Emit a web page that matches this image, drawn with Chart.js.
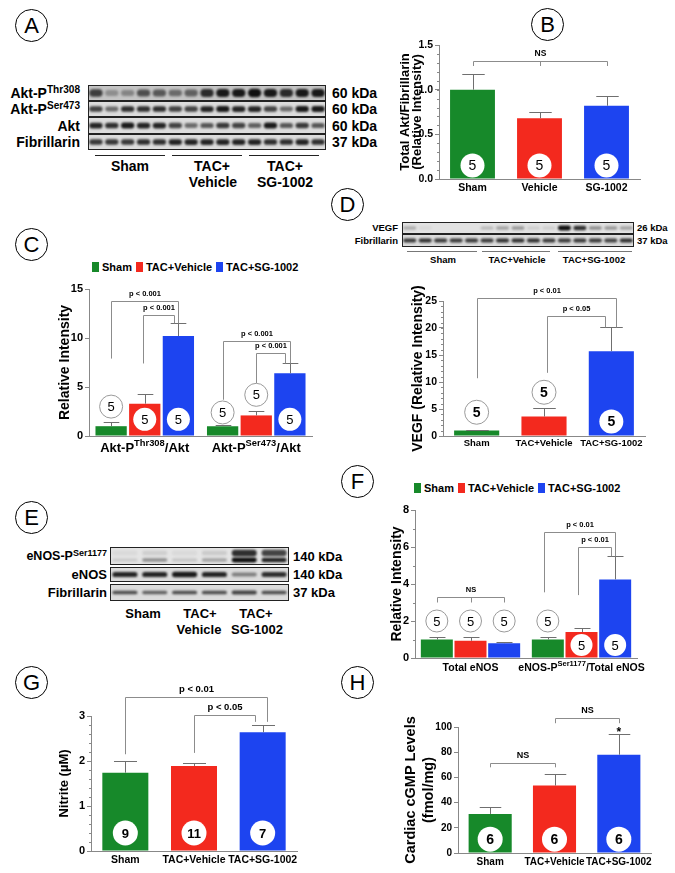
<!DOCTYPE html>
<html>
<head>
<meta charset="utf-8">
<script src="https://cdn.jsdelivr.net/npm/chart.js@4.4.1/dist/chart.umd.min.js"></script>
<style>
body{margin:0;background:#fff;width:675px;height:873px;position:relative;overflow:hidden;font-family:"Liberation Sans",Arial,sans-serif;font-weight:bold;color:#000}
canvas,.t,.ln,.pl,.lg{position:absolute}
.pl{width:31px;height:31px;border:1.2px solid #000;border-radius:50%;font-weight:normal;font-size:22px;line-height:31px;text-align:center}
.t{white-space:nowrap;line-height:1}
.r{transform:translate(-100%,-50%)}
.l{transform:translate(0,-50%)}
.c{transform:translate(-50%,-50%)}
.ln{height:0;border-top:1.5px solid #222}
.ln.g{border-top:1px solid #777}
sup{font-size:72%;vertical-align:0;position:relative;top:-0.45em}
.lg{display:flex;align-items:center;font-size:11px;transform:translateY(-50%);white-space:nowrap}
.lg i{display:inline-block;width:7px;height:10px;margin:0 3px 0 4px}
</style>
</head>
<body>
<!-- panel letters -->
<div class="pl" style="left:15px;top:9px">A</div>
<div class="pl" style="left:531px;top:8px">B</div>
<div class="pl" style="left:15px;top:228px">C</div>
<div class="pl" style="left:331px;top:188px">D</div>
<div class="pl" style="left:15px;top:501px">E</div>
<div class="pl" style="left:341px;top:465px">F</div>
<div class="pl" style="left:15px;top:666px">G</div>
<div class="pl" style="left:341px;top:666px">H</div>

<!-- A blot -->
<canvas id="blotA"></canvas>
<div class="t r" style="left:80px;top:93px;font-size:14px">Akt-P<sup>Thr308</sup></div>
<div class="t r" style="left:80px;top:109px;font-size:14px">Akt-P<sup>Ser473</sup></div>
<div class="t r" style="left:80px;top:126px;font-size:14px">Akt</div>
<div class="t r" style="left:80px;top:142px;font-size:14px">Fibrillarin</div>
<div class="t l" style="left:332px;top:93px;font-size:14px">60 kDa</div>
<div class="t l" style="left:332px;top:109px;font-size:14px">60 kDa</div>
<div class="t l" style="left:332px;top:126px;font-size:14px">60 kDa</div>
<div class="t l" style="left:332px;top:142px;font-size:14px">37 kDa</div>
<div class="ln" style="left:95px;top:155px;width:70px"></div>
<div class="ln" style="left:172px;top:155px;width:70px"></div>
<div class="ln" style="left:249px;top:155px;width:70px"></div>
<div class="t c" style="left:130px;top:166px;font-size:14px">Sham</div>
<div class="t c" style="left:212px;top:166px;font-size:14px">TAC+</div>
<div class="t c" style="left:213px;top:182px;font-size:14px">Vehicle</div>
<div class="t c" style="left:285px;top:166px;font-size:14px">TAC+</div>
<div class="t c" style="left:285px;top:182px;font-size:14px">SG-1002</div>

<!-- D blot -->
<canvas id="blotD"></canvas>
<div class="t r" style="left:398px;top:228px;font-size:9.5px">VEGF</div>
<div class="t r" style="left:398px;top:241px;font-size:9.5px">Fibrillarin</div>
<div class="t l" style="left:637px;top:228px;font-size:9.5px">26 kDa</div>
<div class="t l" style="left:637px;top:241px;font-size:9.5px">37 kDa</div>
<div class="ln g" style="left:407px;top:251px;width:70px"></div>
<div class="ln g" style="left:482px;top:251px;width:68px"></div>
<div class="ln g" style="left:558px;top:251px;width:74px"></div>
<div class="t c" style="left:443px;top:260px;font-size:9.5px">Sham</div>
<div class="t c" style="left:517px;top:260px;font-size:9.5px">TAC+Vehicle</div>
<div class="t c" style="left:594px;top:260px;font-size:9.5px">TAC+SG-1002</div>

<!-- E blot -->
<canvas id="blotE"></canvas>
<div class="t r" style="left:107px;top:556px;font-size:12.5px">eNOS-P<sup>Ser1177</sup></div>
<div class="t r" style="left:107px;top:574px;font-size:13px">eNOS</div>
<div class="t r" style="left:107px;top:592px;font-size:13px">Fibrillarin</div>
<div class="t l" style="left:293px;top:556px;font-size:13px">140 kDa</div>
<div class="t l" style="left:293px;top:574px;font-size:13px">140 kDa</div>
<div class="t l" style="left:293px;top:592px;font-size:13px">37 kDa</div>
<div class="t c" style="left:143px;top:613px;font-size:13px">Sham</div>
<div class="t c" style="left:200px;top:613px;font-size:13px">TAC+</div>
<div class="t c" style="left:199px;top:629px;font-size:13px">Vehicle</div>
<div class="t c" style="left:256px;top:613px;font-size:13px">TAC+</div>
<div class="t c" style="left:257px;top:629px;font-size:13px">SG-1002</div>

<div class="lg" id="legC" style="left:92px;top:267px"></div>
<div class="lg" id="legF" style="left:414px;top:488px"></div>

<canvas id="cB"></canvas>
<canvas id="cC"></canvas>
<canvas id="cD"></canvas>
<canvas id="cF"></canvas>
<canvas id="cG"></canvas>
<canvas id="cH"></canvas>

<script>
// groupes et couleurs
const groupNames = ['Sham', 'TAC+Vehicle', 'TAC+SG-1002'];
const groupColors = ['#17892a', '#f3291e', '#1d44f0'];

// B : Akt total / fibrillarine
const bCategories = ['Sham', 'Vehicle', 'SG-1002'];
const bMean = [1.00, 0.68, 0.82];
const bSem = [0.18, 0.07, 0.11];
const bN = [5, 5, 5];
const bYTicks = [0, 0.5, 1.0, 1.5];

// C : phosphorylation d'Akt ({} = exposant)
const cCategories = ['Akt-P{Thr308}/Akt', 'Akt-P{Ser473}/Akt'];
const cSham = [1.0, 1.0];
const cVehicle = [3.3, 2.1];
const cSG = [10.2, 6.4];
const cShamSem = [0.4, 0.12];
const cVehicleSem = [1.0, 0.5];
const cSGSem = [1.3, 1.0];
const cN = [5, 5];
const cYTicks = [0, 5, 10, 15];

// D : VEGF
const dMean = [1.0, 3.6, 15.7];
const dSem = [0.12, 1.6, 4.4];
const dN = [5, 5, 5];
const dYTicks = [0, 5, 10, 15, 20, 25];

// F : eNOS
const fCategories = ['Total eNOS', 'eNOS-P{Ser1177}/Total eNOS'];
const fSham = [1.0, 1.0];
const fVehicle = [0.93, 1.4];
const fSG = [0.8, 4.25];
const fShamSem = [0.15, 0.15];
const fVehicleSem = [0.2, 0.22];
const fSGSem = [0.05, 1.25];
const fN = [5, 5];
const fYTicks = [0, 2, 4, 6, 8];

// G : nitrite
const gMean = [1.74, 1.89, 2.64];
const gSem = [0.27, 0.07, 0.16];
const gN = [9, 11, 7];
const gYTicks = [0, 1, 2, 3];

// H : GMPc cardiaque
const hMean = [31, 53.5, 78];
const hSem = [5.5, 9.5, 16.5];
const hN = [6, 6, 6];
const hYTicks = [0, 20, 40, 60, 80, 100];

// intensites des bandes (0..1) par puits
const aThr308 = [0.75, 0.3, 0.35, 0.65, 0.6, 0.5, 0.55, 0.85, 0.95, 0.95, 1, 0.95, 0.85, 0.95, 0.95];
const aSer473 = [0.75, 0.55, 0.85, 0.85, 0.85, 0.75, 0.75, 0.9, 0.95, 0.9, 0.9, 0.75, 0.55, 0.95, 0.95];
const aAkt = [0.9, 0.85, 0.95, 0.9, 0.9, 0.75, 0.55, 0.65, 0.8, 0.75, 0.6, 0.95, 0.65, 0.8, 0.65];
const aFib = [0.8, 0.8, 0.8, 0.85, 0.85, 0.9, 0.9, 0.9, 0.9, 0.9, 0.9, 0.85, 0.85, 0.9, 0.85];
const dVEGF = [0.25, 0.05, 0, 0, 0, 0.2, 0.3, 0.35, 0.1, 0.1, 1, 0.85, 0.4, 0.35, 0.3];
const dFib = [0.8, 0.85, 0.8, 0.8, 0.8, 0.8, 0.85, 0.85, 0.85, 0.8, 0.8, 0.8, 0.8, 0.75, 0.85];
const eP = [0.12, 0.4, 0.15, 0.3, 1, 0.9];
const ePUpper = [0.05, 0.1, 0.05, 0.12, 0.85, 0.75];
const eNOS = [0.9, 0.9, 0.95, 0.9, 0.45, 0.85];
const eFib = [0.7, 0.6, 0.7, 0.7, 0.75, 0.7];

const FONT = '"Liberation Sans", Arial, sans-serif';
Chart.defaults.font.family = FONT;
Chart.defaults.color = '#000';

function drawBlot(id, x, y, w, rows) {
    const cv = document.getElementById(id);
    const h = rows.reduce((s, r) => s + r.h + (r.gap || 0), 0);
    cv.width = w; cv.height = h;
    cv.style.left = x + 'px'; cv.style.top = y + 'px';
    const ctx = cv.getContext('2d');
    let yy = 0;
    rows.forEach(r => {
        ctx.fillStyle = r.bg || '#dcdcdc';
        ctx.fillRect(0, yy, w, r.h);
        ctx.save();
        ctx.beginPath(); ctx.rect(0, yy, w, r.h); ctx.clip();
        ctx.filter = 'blur(1px)';
        r.layers.forEach(L => {
            const lw = w / L.a.length;
            L.a.forEach((a, i) => {
                const bh = L.bh * (0.7 + 0.5 * a);
                ctx.fillStyle = 'rgba(15,15,15,' + a + ')';
                ctx.beginPath();
                ctx.roundRect((i + 0.5) * lw - lw * 0.42, yy + r.h / 2 + (L.dy || 0) - bh / 2, lw * 0.84, bh, bh / 2);
                ctx.fill();
            });
        });
        ctx.restore();
        ctx.strokeStyle = '#222'; ctx.lineWidth = 1;
        ctx.strokeRect(0.5, yy + 0.5, w - 1, r.h - 1);
        yy += r.h + (r.gap || 0);
    });
}

drawBlot('blotA', 88, 85, 238, [
    {h: 16, bg: '#c4c4c4', layers: [{a: aThr308, bh: 7}]},
    {h: 16, layers: [{a: aSer473, bh: 5}]},
    {h: 17, layers: [{a: aAkt, bh: 5}]},
    {h: 16, layers: [{a: aFib, bh: 5}]}
]);
drawBlot('blotD', 402, 222, 232, [
    {h: 12, bg: '#e2e2e2', layers: [{a: dVEGF, bh: 4}]},
    {h: 13, layers: [{a: dFib, bh: 3.5}]}
]);
drawBlot('blotE', 110, 547, 179, [
    {h: 18, gap: 2, bg: '#e4e4e4', layers: [{a: ePUpper, bh: 6, dy: -3}, {a: eP, bh: 4, dy: 4}]},
    {h: 15, gap: 2, layers: [{a: eNOS, bh: 4.5}]},
    {h: 17, layers: [{a: eFib, bh: 3.5}]}
]);

// legendes HTML
function legend(id) {
    document.getElementById(id).innerHTML = groupNames.map((g, i) =>
        '<i style="background:' + groupColors[i] + (i ? '' : ';margin-left:0') + '"></i>' + g).join('');
}
legend('legC');
legend('legF');

// rendu d'un libelle avec exposant {..}
function richText(ctx, str, cx, cy, size) {
    const parts = str.split(/[{}]/).map((s, i) => ({s, sup: i % 2 === 1}));
    const fontOf = p => 'bold ' + (p.sup ? size * 0.72 : size) + 'px ' + FONT;
    let total = 0;
    parts.forEach(p => { ctx.font = fontOf(p); p.w = ctx.measureText(p.s).width; total += p.w; });
    let x = cx - total / 2;
    ctx.textAlign = 'left'; ctx.textBaseline = 'middle'; ctx.fillStyle = '#000';
    parts.forEach(p => { ctx.font = fontOf(p); ctx.fillText(p.s, x, p.sup ? cy - size * 0.35 : cy); x += p.w; });
}

// barres d'erreur, cercles n, crochets de signification
const extras = {
    id: 'extras',
    afterDatasetsDraw(chart, args, o) {
        const ctx = chart.ctx, ys = chart.scales.y, xs = chart.scales.x, area = chart.chartArea;
        const bar = (d, i) => chart.getDatasetMeta(d).data[i];
        const val = (d, i) => chart.data.datasets[d].data[i];
        const px = v => Math.round(v) + 0.5;
        ctx.save();
        ctx.lineWidth = 1;
        ctx.strokeStyle = '#6f6f6f';
        (o.sem || []).forEach((arr, d) => arr.forEach((s, i) => {
            const b = bar(d, i), ty = px(ys.getPixelForValue(val(d, i) + s)), cx = px(b.x);
            ctx.beginPath();
            ctx.moveTo(cx, b.y); ctx.lineTo(cx, ty);
            ctx.moveTo(cx - b.width / 4, ty); ctx.lineTo(cx + b.width / 4, ty);
            ctx.stroke();
        }));
        if (o.minor) {
            ctx.strokeStyle = '#888';
            ctx.beginPath();
            for (let v = 0; v <= ys.max + 1e-9; v += o.minor) {
                const py = px(ys.getPixelForValue(v));
                ctx.moveTo(area.left - 2, py); ctx.lineTo(area.left, py);
            }
            ctx.stroke();
        }
        ctx.strokeStyle = '#8c8c8c';
        ctx.fillStyle = '#000';
        ctx.textAlign = 'center'; ctx.textBaseline = 'middle';
        (o.brackets || []).forEach(k => {
            const xa = px(bar(...k.a).x + (k.dxa || 0));
            const xb = px(bar(...k.b).x + (k.dxb || 0));
            const yt = px(ys.getPixelForValue(k.top));
            ctx.beginPath();
            ctx.moveTo(xa, ys.getPixelForValue(k.la)); ctx.lineTo(xa, yt);
            ctx.lineTo(xb, yt); ctx.lineTo(xb, ys.getPixelForValue(k.lb));
            if (k.mid) {
                const m = px(bar(...k.mid).x);
                ctx.moveTo(m, yt); ctx.lineTo(m, ys.getPixelForValue(k.lm));
            }
            ctx.stroke();
            ctx.font = 'bold ' + o.pFont + 'px ' + FONT;
            ctx.fillText(k.text, (xa + xb) / 2, yt - 8);
        });
        (o.stars || []).forEach(s => {
            ctx.font = 'bold 12px ' + FONT;
            ctx.fillText('*', bar(...s.b).x, ys.getPixelForValue(s.v) + 3);
        });
        (o.circ || []).forEach((arr, d) => arr.forEach((v, i) => {
            const b = bar(d, i), cy = ys.getPixelForValue(v);
            const inside = v < val(d, i);
            ctx.beginPath();
            ctx.arc(b.x, cy, o.r, 0, Math.PI * 2);
            ctx.fillStyle = '#fff';
            ctx.fill();
            if (!inside) { ctx.strokeStyle = '#9a9a9a'; ctx.stroke(); }
            ctx.fillStyle = '#000';
            ctx.font = o.numFont + ' ' + FONT;
            ctx.fillText(String(o.n[d][i]), b.x, cy + 1);
        }));
        if (o.rich) {
            chart.data.labels.forEach((lab, i) => richText(ctx, lab, xs.getPixelForTick(i), area.bottom + o.rich.dy, o.rich.size));
        }
        ctx.restore();
    }
};

// box = canevas [x0,y0,x1,y1], plot = zone de trace [gauche, haut(max), droite, bas(0)]
function makeChart(id, box, plot, c) {
    const cv = document.getElementById(id);
    const w = box[2] - box[0], h = box[3] - box[1];
    cv.width = w; cv.height = h;
    cv.style.left = box[0] + 'px'; cv.style.top = box[1] + 'px';
    const yw = plot[0] - box[0], pt = plot[1] - box[1], pr = box[2] - plot[2], xh = box[3] - plot[3];
    return new Chart(cv, {
        type: 'bar',
        data: {labels: c.labels, datasets: c.datasets},
        options: {
            responsive: false,
            animation: false,
            layout: {padding: {left: 0, top: pt, right: pr, bottom: 0}},
            plugins: {legend: {display: false}, tooltip: {enabled: false}, extras: c.extras},
            scales: {
                x: {
                    grid: {display: false, drawTicks: false, tickLength: 0},
                    border: {color: '#888'},
                    ticks: {display: c.xTicks !== false, font: {size: c.xFont || 10, weight: 'bold'}, padding: c.xPad || 3, maxRotation: 0, autoSkip: false},
                    afterFit: s => { s.height = xh; }
                },
                y: {
                    min: 0,
                    max: c.yTicks[c.yTicks.length - 1],
                    afterBuildTicks: s => { s.ticks = c.yTicks.map(v => ({value: v})); },
                    ticks: {font: {size: c.tickFont, weight: 'bold'}, padding: 2, callback: c.fmt || (v => v)},
                    grid: {drawOnChartArea: false, tickLength: 4, color: '#888'},
                    border: {color: '#888'},
                    title: {display: true, text: c.title, padding: 0, font: {size: c.titleSize, weight: 'bold', lineHeight: c.titleLh || 1.2}},
                    afterFit: s => { s.width = yw; }
                }
            }
        },
        plugins: [extras]
    });
}

const single = (data) => [{data, backgroundColor: groupColors, categoryPercentage: 1, barPercentage: 0.67}];
const grouped = (sets, cp, bp) => sets.map((d, i) => ({label: groupNames[i], data: d, backgroundColor: groupColors[i], categoryPercentage: cp, barPercentage: bp}));

makeChart('cB', [399, 31, 646, 199], [439, 45, 640, 179], {
    labels: bCategories, datasets: single(bMean), yTicks: bYTicks, fmt: v => v.toFixed(1),
    tickFont: 10.5, xFont: 10.5, title: ['Total Akt/Fibrillarin', '(Relative Intensity)'], titleSize: 13, titleLh: 0.92,
    extras: {sem: [bSem], n: [bN], circ: [[0.15, 0.15, 0.15]], r: 12, numFont: '14px', minor: 0.1, pFont: 8.5,
        brackets: [{a: [0, 0], b: [0, 2], top: 1.32, la: 1.265, lb: 1.265, mid: [0, 1], lm: 1.265, text: 'NS'}]}
});

makeChart('cC', [57, 279, 318, 458], [89, 289, 312, 436], {
    labels: cCategories, datasets: grouped([cSham, cVehicle, cSG], 0.905, 0.93), yTicks: cYTicks,
    tickFont: 11, xTicks: false, title: 'Relative Intensity', titleSize: 14, titleLh: 1.1,
    extras: {sem: [cShamSem, cVehicleSem, cSGSem], n: [cN, cN, cN], circ: [[3.0, 2.4], [1.7, 4.2], [1.7, 1.7]],
        r: 11.5, numFont: '13px', pFont: 7.5, rich: {size: 13, dy: 12},
        brackets: [
            {a: [0, 0], b: [2, 0], top: 13.8, la: 7.9, lb: 11.5, text: 'p < 0.001'},
            {a: [1, 0], b: [2, 0], dxa: -2, dxb: -4, top: 12.3, la: 7.4, lb: 11.5, text: 'p < 0.001'},
            {a: [0, 1], b: [2, 1], top: 9.7, la: 3.7, lb: 7.4, text: 'p < 0.001'},
            {a: [1, 1], b: [2, 1], dxb: -5, top: 8.5, la: 5.4, lb: 7.4, text: 'p < 0.001'}
        ]}
});

makeChart('cD', [410, 281, 651, 454], [443, 301, 645, 436], {
    labels: groupNames, datasets: single(dMean), yTicks: dYTicks,
    tickFont: 10.5, xFont: 9.5, xPad: 2, title: 'VEGF (Relative Intensity)', titleSize: 14, titleLh: 1.1,
    extras: {sem: [dSem], n: [dN], circ: [[4.4, 8.1, 2.7]], r: 12, numFont: 'bold 14px', minor: 1, pFont: 7.5,
        brackets: [
            {a: [0, 0], b: [0, 2], dxb: 5, top: 25.5, la: 10.7, lb: 20.1, text: 'p < 0.01'},
            {a: [0, 1], b: [0, 2], dxa: 3, dxb: -6, top: 22.2, la: 11.7, lb: 20.1, text: 'p < 0.05'}
        ]}
});

makeChart('cF', [390, 500, 662, 678], [415, 510, 637, 658], {
    labels: fCategories, datasets: grouped([fSham, fVehicle, fSG], 0.91, 0.95), yTicks: fYTicks,
    tickFont: 11, xTicks: false, title: 'Relative Intensity', titleSize: 14, titleLh: 1.0,
    extras: {sem: [fShamSem, fVehicleSem, fSGSem], n: [fN, fN, fN], circ: [[2, 2], [2, 0.7], [2, 0.7]],
        r: 11, numFont: '13px', minor: 1, pFont: 7.5, rich: {size: 10.5, dy: 10},
        brackets: [
            {a: [0, 0], b: [2, 0], top: 3.3, la: 3.0, lb: 3.0, mid: [1, 0], lm: 3.0, text: 'NS'},
            {a: [0, 1], b: [2, 1], dxa: -4, top: 6.8, la: 3.55, lb: 5.5, text: 'p < 0.01'},
            {a: [1, 1], b: [2, 1], dxa: -4, dxb: -4, top: 6.0, la: 3.4, lb: 5.5, text: 'p < 0.01'}
        ]}
});

makeChart('cG', [57, 680, 303, 871], [91, 716, 297, 851], {
    labels: groupNames, datasets: single(gMean), yTicks: gYTicks,
    tickFont: 11, xFont: 10.5, title: 'Nitrite (µM)', titleSize: 13,
    extras: {sem: [gSem], n: [gN], circ: [[0.4, 0.4, 0.4]], r: 12.5, numFont: 'bold 13px', minor: 0.2, pFont: 9.5,
        brackets: [
            {a: [0, 0], b: [0, 2], dxb: 4, top: 3.42, la: 2.15, lb: 2.87, text: 'p < 0.01'},
            {a: [0, 1], b: [0, 2], dxb: -8, top: 3.02, la: 2.18, lb: 2.87, text: 'p < 0.05'}
        ]}
});

makeChart('cH', [402, 701, 657, 871], [458, 727, 651, 853], {
    labels: groupNames, datasets: single(hMean), yTicks: hYTicks,
    tickFont: 10, xFont: 10, title: ['Cardiac cGMP Levels', '(fmol/mg)'], titleSize: 14.5, titleLh: 1.25,
    extras: {sem: [hSem], n: [hN], circ: [[11, 11, 11]], r: 12.5, numFont: 'bold 14px', pFont: 9,
        brackets: [
            {a: [0, 0], b: [0, 1], top: 71.5, la: 68, lb: 68, text: 'NS'},
            {a: [0, 1], b: [0, 2], top: 107, la: 103, lb: 103, text: 'NS'}
        ],
        stars: [{b: [0, 2], v: 98}]}
});
</script>
</body>
</html>
